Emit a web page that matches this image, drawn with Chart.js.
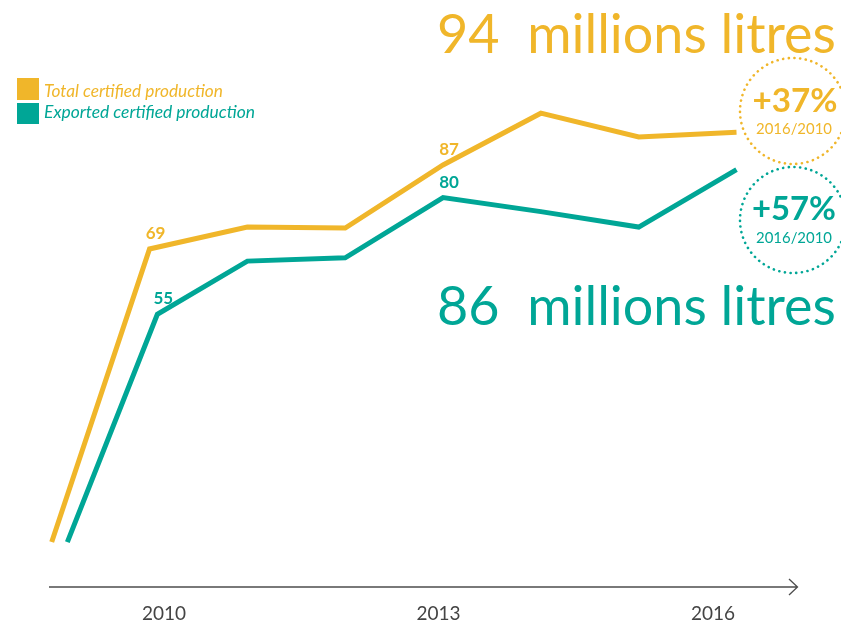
<!DOCTYPE html>
<html>
<head>
<meta charset="utf-8">
<script src="https://cdn.jsdelivr.net/npm/chart.js@4.4.1/dist/chart.umd.min.js"></script>
<style>
  html, body { margin: 0; padding: 0; background: #fff; }
  #wrap { position: relative; width: 841px; height: 622px; }
</style>
</head>
<body>
<div id="wrap"><canvas id="chart"></canvas></div>
<script>
// data (millions of litres)
var years = [2009, 2010, 2011, 2012, 2013, 2014, 2015, 2016];
// the exported line sits a little to the right on the steep first part
var exportYears = [2009.16, 2010.08, 2011, 2012, 2013, 2014, 2015, 2016];
var totalProd = [6.2, 69, 73.7, 73.5, 87, 98.1, 93, 94];
var exportProd = [6.2, 55, 66.4, 67.1, 80, 77, 73.7, 86];
var tickYears = [2010, 2013, 2016];
var labelled = [1, 4]; // points that carry a value label

var GOLD = '#f0b62a';
var TEAL = '#00a696';
var FONT = 'Lato, "Open Sans", sans-serif';

function pts(xs, ys) {
    return xs.map(function(x, i){ return {x: x, y: ys[i]}; });
}

function fitSize(ctx, text, weight, style, width) {
    ctx.font = style + ' ' + weight + ' 100px ' + FONT;
    return 100 * width / ctx.measureText(text).width;
}

function fitText(ctx, text, weight, style, width, x, y, align, color) {
    var s = fitSize(ctx, text, weight, style, width);
    ctx.font = style + ' ' + weight + ' ' + s + 'px ' + FONT;
    ctx.textAlign = align;
    ctx.textBaseline = 'alphabetic';
    ctx.fillStyle = color;
    ctx.fillText(text, x, y);
}

function dottedCircle(ctx, cx, cy, r, color) {
    ctx.beginPath();
    ctx.setLineDash([0.1, 5.6]);
    ctx.lineCap = 'round';
    ctx.lineWidth = 2.6;
    ctx.strokeStyle = color;
    ctx.arc(cx, cy, r, 0, Math.PI * 2);
    ctx.stroke();
    ctx.setLineDash([]);
}

var decor = {
    id: 'decor',
    afterDatasetsDraw: function(chart) {
        var ctx = chart.ctx;
        ctx.save();
        // value labels
        ctx.font = 'bold 17px ' + FONT;
        ctx.textAlign = 'center';
        ctx.textBaseline = 'alphabetic';
        [0, 1].forEach(function(d){
            var meta = chart.getDatasetMeta(d);
            var vals = chart.data.datasets[d].data;
            ctx.fillStyle = chart.data.datasets[d].borderColor;
            labelled.forEach(function(i){
                var p = meta.data[i];
                ctx.fillText(String(vals[i].y), p.x + 6, p.y - 10);
            });
        });
        ctx.restore();
    },
    afterDraw: function(chart) {
        var ctx = chart.ctx;
        ctx.save();

        // axis arrow
        ctx.strokeStyle = '#4d4d4d';
        ctx.lineWidth = 1.3;
        ctx.beginPath();
        ctx.moveTo(49, 587);
        ctx.lineTo(797, 587);
        ctx.moveTo(789, 579);
        ctx.lineTo(797.5, 587);
        ctx.lineTo(789, 595);
        ctx.stroke();

        // legend
        ctx.fillStyle = GOLD;
        ctx.fillRect(17, 78, 22, 22);
        ctx.fillStyle = TEAL;
        ctx.fillRect(17, 103, 22, 21);
        fitText(ctx, 'Total certified production', '400', 'italic', 179, 44, 97, 'left', GOLD);
        fitText(ctx, 'Exported certified production', '400', 'italic', 211, 44, 118, 'left', TEAL);

        // headline figures
        fitText(ctx, '94  millions litres', '400', 'normal', 399, 437, 53, 'left', GOLD);
        fitText(ctx, '86  millions litres', '400', 'normal', 399, 437, 325, 'left', TEAL);

        // growth badges
        dottedCircle(ctx, 793, 111, 53, GOLD);
        dottedCircle(ctx, 793, 220, 53, TEAL);
        fitText(ctx, '+37%', 'bold', 'normal', 85, 795, 112, 'center', GOLD);
        fitText(ctx, '2016/2010', '400', 'normal', 76, 794, 134, 'center', GOLD);
        fitText(ctx, '+57%', 'bold', 'normal', 84, 794, 220, 'center', TEAL);
        fitText(ctx, '2016/2010', '400', 'normal', 76, 794, 243, 'center', TEAL);

        ctx.restore();
    }
};

var ctx1 = document.getElementById('chart').getContext('2d');
var myChart = new Chart(ctx1, {
    type: 'line',
    data: {
        datasets: [{
            label: 'Total certified production',
            data: pts(years, totalProd),
            borderColor: GOLD,
            backgroundColor: GOLD,
            borderWidth: 5,
            borderJoinStyle: 'miter',
            pointRadius: 0,
            tension: 0,
            fill: false,
            xAxisID: 'x'
        },
        {
            label: 'Exported certified production',
            data: pts(exportYears, exportProd),
            borderColor: TEAL,
            backgroundColor: TEAL,
            borderWidth: 5,
            borderJoinStyle: 'miter',
            pointRadius: 0,
            tension: 0,
            fill: false,
            xAxisID: 'x'
        }]
    },
    options: {
        responsive: true,
        maintainAspectRatio: false,
        animation: false,
        layout: { padding: 0 },
        plugins: {
            legend: { display: false },
            tooltip: { enabled: false }
        },
        scales: {
            x: { type: 'linear', display: false, min: 2008.4715, max: 2017.068 },
            xt: {
                type: 'linear',
                position: 'bottom',
                min: 2008.208,
                max: 2017.399,
                grid: { display: false, drawTicks: false },
                border: { display: false },
                ticks: {
                    padding: 30,
                    color: '#444',
                    font: { family: FONT, size: 19 },
                    callback: function(v){ return String(v); }
                },
                afterBuildTicks: function(s){ s.ticks = tickYears.map(function(v){ return {value: v}; }); },
                afterFit: function(s){ s.height = 50; }
            },
            y: { display: false, min: -0.214, max: 122.35 }
        }
    },
    plugins: [decor]
});
</script>
</body>
</html>
